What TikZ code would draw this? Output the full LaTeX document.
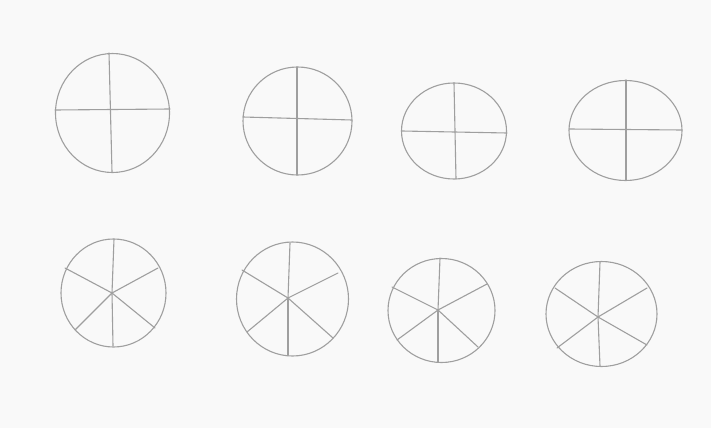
\documentclass[tikz,border=0pt]{standalone}
\begin{document}
\begin{tikzpicture}[x=1pt, y=-1pt,
        pencil/.style={draw=gray!75, line width=1.1pt, line cap=round}]

        %-- Nền giấy --
        \fill[gray!5] (0,0) rectangle (711,428);
        \useasboundingbox (0,0) rectangle (711,428);

        %-- Hàng trên: bốn hình tròn chia làm bốn phần --
        \foreach \n/\cx/\cy/\rx/\ry in {1/112.5/113/57/59.5, 2/297.5/121/54.5/54,
                3/454/131/52.5/48, 4/625.5/130.5/56.5/50} {
                \coordinate (Q\n) at (\cx,\cy);
                \draw[pencil] (Q\n) ellipse [x radius=\rx, y radius=\ry];
            }

        %   đường ngang và đường dọc (vẽ tay, hơi lệch)
        \draw[pencil] (55,110) -- (170,109);
        \draw[pencil] (109,53) -- (112,172);
        \draw[pencil] (243,117) -- (352,120);
        \draw[pencil] (297,67) -- (297,175);
        \draw[pencil] (402,131) -- (507,133);
        \draw[pencil] (454,83) -- (456,179);
        \draw[pencil] (569,129) -- (682,130);
        \draw[pencil] (626,80) -- (626,180);

        %-- Hàng dưới: bốn hình tròn chia làm sáu phần --
        \foreach \n/\cx/\cy/\rx/\ry in {5/113.5/293/52.5/54, 6/292.5/299/56/57,
                7/441.5/310.5/53.5/52, 8/601.5/314/55.5/52.5} {
                \coordinate (S\n) at (\cx,\cy);
                \draw[pencil] (S\n) ellipse [x radius=\rx, y radius=\ry];
            }

        %   tâm các nan
        \coordinate (H5) at (112,293);
        \coordinate (H6) at (288,298);
        \coordinate (H7) at (438,310);
        \coordinate (H8) at (598,317);

        %   sáu nan từ tâm ra vành
        \foreach \p in {(114,239), (158,268), (155,328), (113,346), (75,330), (65,268)}
            \draw[pencil] (H5) -- \p;
        \foreach \p in {(290,243), (338,273), (333,338), (288,355), (247,332), (242,270)}
            \draw[pencil] (H6) -- \p;
        \foreach \p in {(440,258), (487,284), (478,347), (438,362), (397,340), (392,287)}
            \draw[pencil] (H7) -- \p;
        \foreach \p in {(600,262), (647,288), (647,345), (600,366), (557,348), (555,288)}
            \draw[pencil] (H8) -- \p;

    \end{tikzpicture}
\end{document}
